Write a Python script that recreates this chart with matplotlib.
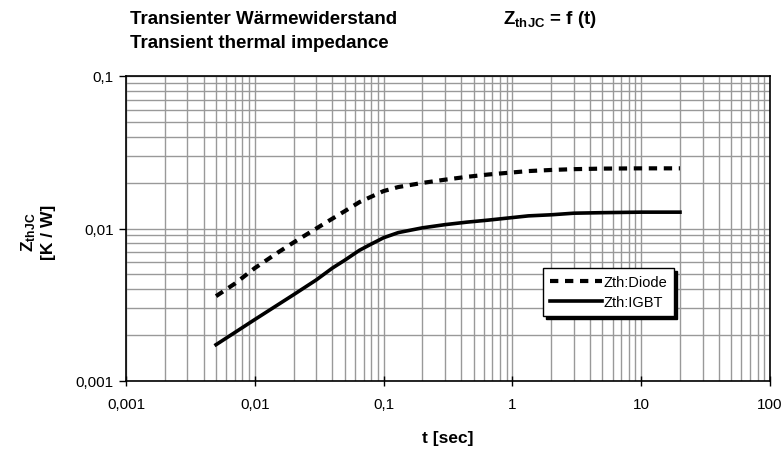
import matplotlib
matplotlib.use("Agg")
import matplotlib.pyplot as plt
from matplotlib.ticker import FixedLocator, FixedFormatter, NullFormatter

plt.rcParams['font.family'] = ['Liberation Sans', 'DejaVu Sans']
plt.rcParams['mathtext.fontset'] = 'custom'
plt.rcParams['mathtext.rm'] = 'Liberation Sans:bold'
plt.rcParams['mathtext.bf'] = 'Liberation Sans:bold'
plt.rcParams['mathtext.it'] = 'Liberation Sans:bold'

# values
t = [0.005, 0.007, 0.01, 0.015, 0.02, 0.03, 0.04, 0.05, 0.065, 0.08, 0.1, 0.13,
     0.2, 0.3, 0.44, 0.65, 1.33, 2, 3, 5, 10, 20]
zth_diode = [0.0036, 0.00435, 0.0055, 0.00693, 0.0081, 0.0100, 0.0116, 0.0130, 0.0149, 0.01615,
             0.0176, 0.0187, 0.0199, 0.0209, 0.0218, 0.0226, 0.0238, 0.0242, 0.0245, 0.0247,
             0.0248, 0.0248]
zth_igbt = [0.00173, 0.00208, 0.00253, 0.00315, 0.00368, 0.0046, 0.0055, 0.0062, 0.0072, 0.0079,
            0.0087, 0.0094, 0.0101, 0.0106, 0.0110, 0.01135, 0.0121, 0.0123, 0.0126, 0.0127,
            0.0128, 0.0128]

x_ticks = [0.001, 0.01, 0.1, 1, 10, 100]
x_labels = ["0,001", "0,01", "0,1", "1", "10", "100"]
y_ticks = [0.001, 0.01, 0.1]
y_labels = ["0,001", "0,01", "0,1"]

fig = plt.figure(figsize=(7.84, 4.56), dpi=100)
ax = fig.add_axes([126 / 784, 1 - 382 / 456, 644 / 784, 305 / 456])

ax.plot(t, zth_diode, color='black', linewidth=3, linestyle=(0, (2, 1.6)),
        label="Zth:Diode", zorder=3)
ax.plot(t, zth_igbt, color='black', linewidth=2.6, label="Zth:IGBT", zorder=3)

ax.set_xscale('log')
ax.set_yscale('log')
ax.set_xlim(0.001, 100)
ax.set_ylim(0.001, 0.1)

minor_x = [m * 10.0 ** e for e in range(-3, 2) for m in range(2, 10)]
minor_y = [m * 10.0 ** e for e in range(-3, -1) for m in range(2, 10)]
ax.xaxis.set_major_locator(FixedLocator(x_ticks))
ax.xaxis.set_major_formatter(FixedFormatter(x_labels))
ax.yaxis.set_major_locator(FixedLocator(y_ticks))
ax.yaxis.set_major_formatter(FixedFormatter(y_labels))
ax.xaxis.set_minor_locator(FixedLocator(minor_x))
ax.yaxis.set_minor_locator(FixedLocator(minor_y))
ax.xaxis.set_minor_formatter(NullFormatter())
ax.yaxis.set_minor_formatter(NullFormatter())

ax.grid(True, which='both', color='#999999', linewidth=1.0)
ax.tick_params(axis='x', which='major', direction='inout', length=7, width=1, labelsize=11, pad=8)
ax.tick_params(axis='y', which='major', direction='out', length=5, width=1, labelsize=11, pad=4)
ax.tick_params(which='minor', length=0)
for s in ax.spines.values():
    s.set_linewidth(1.2)

ax.set_xlabel("t [sec]", fontsize=12.5, fontweight='bold', labelpad=14)
fig.text(0.048, 1 - 232 / 456, "$\\mathbf{Z_{thJC}}$\n[K / W]", rotation=90,
         fontsize=12.5, fontweight='bold', ha='center', va='center', multialignment='center')

fig.text(130 / 784, 1 - 19.5 / 456, "Transienter Wärmewiderstand", fontsize=13.5,
         fontweight='bold', va='center')
fig.text(130 / 784, 1 - 44 / 456, "Transient thermal impedance", fontsize=13.5,
         fontweight='bold', va='center')
fig.text(503 / 784, 1 - 19.5 / 456, "$\\mathbf{Z_{thJC}}$ = f (t)", fontsize=13.5,
         fontweight='bold', va='center')

leg = ax.legend(loc='upper left', bbox_to_anchor=(0.648, 0.37), fontsize=10.5,
                frameon=True, fancybox=False, shadow={'color': 'black', 'alpha': 1},
                handlelength=3.6, handletextpad=0.1, borderpad=0.45, labelspacing=0.45,
                borderaxespad=0)
leg.get_frame().set_edgecolor('black')
leg.get_frame().set_linewidth(1.0)
leg.get_frame().set_alpha(1)

fig.savefig("out.png", dpi=100)
